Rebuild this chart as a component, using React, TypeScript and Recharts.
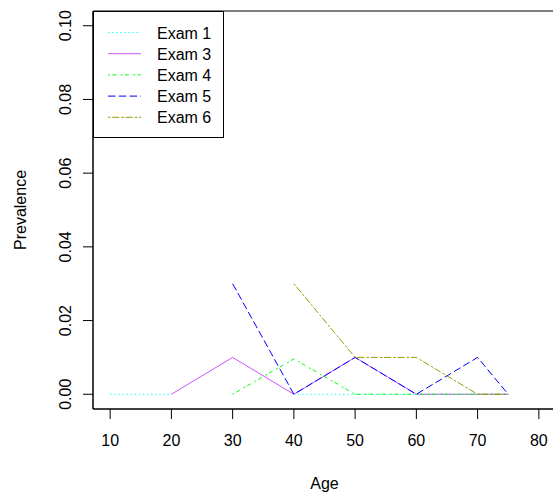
import React from 'react';
import { LineChart, Line, XAxis, YAxis, ReferenceArea } from 'recharts';

const ages = [10, 20, 30, 40, 50, 60, 70, 75];
const exam1 = [0, 0, null, 0, 0, 0, 0, 0];
const exam3 = [null, 0, 0.01, 0, 0.01, 0, 0, 0];
const exam4 = [null, null, 0, 0.0096, 0, 0, 0, 0];
const exam5 = [null, null, 0.03, 0, 0.01, 0, 0.01, 0];
const exam6 = [null, null, null, 0.03, 0.01, 0.01, 0, 0];
const xTicks = [10, 20, 30, 40, 50, 60, 70, 80];
const yTicks = [0, 0.02, 0.04, 0.06, 0.08, 0.1];

const series = [
  { key: 'exam1', name: 'Exam 1', color: '#00FFFF', dash: '1.3 2.8', values: exam1 },
  { key: 'exam3', name: 'Exam 3', color: '#CC55FF', dash: undefined, values: exam3 },
  { key: 'exam4', name: 'Exam 4', color: '#00FF00', dash: '2 2.3 4 4.3', values: exam4 },
  { key: 'exam5', name: 'Exam 5', color: '#0000FF', dash: '7.5 3.3', values: exam5 },
  { key: 'exam6', name: 'Exam 6', color: '#999900', dash: '2.5 1.7 7 2.2', values: exam6 },
];

const data = ages.map((age, i) => {
  const row: any = { age };
  series.forEach((s) => { row[s.key] = s.values[i]; });
  return row;
});

const font = '"Liberation Sans", Arial, Helvetica, sans-serif';

const YTick = (props: any) => {
  const { y, payload } = props;
  return (
    <text x={71} y={y} transform={`rotate(-90, 71, ${y})`} textAnchor="middle"
      fontSize={16} fontFamily={font} fill="#000">
      {Number(payload.value).toFixed(2)}
    </text>
  );
};

const LegendBox = () => (
  <svg width={131} height={127} style={{ position: 'absolute', left: 93, top: 11 }}>
    <rect x={0.5} y={0.5} width={130} height={126} fill="#fff" stroke="#000" />
    {series.map((s, i) => {
      const cy = 21.5 + i * 21.2;
      return (
        <g key={s.key}>
          <line x1={15} x2={48} y1={cy} y2={cy} stroke={s.color} strokeDasharray={s.dash} />
          <text x={64} y={cy + 6} fontSize={16} fontFamily={font} fill="#000">{s.name}</text>
        </g>
      );
    })}
  </svg>
);

export default function App() {
  return (
    <div style={{ position: 'absolute', left: 0, top: 0, width: 553, height: 498, overflow: 'hidden', background: '#fff' }}>
      <LineChart width={560} height={498} data={data} margin={{ top: 11, right: 4, bottom: 0, left: 0 }}>
        <XAxis
          dataKey="age"
          type="number"
          domain={[7.2, 82.8]}
          ticks={xTicks}
          allowDataOverflow
          height={89}
          tickSize={10}
          tickMargin={16}
          stroke="#000"
          tick={{ fill: '#000', fontSize: 16, fontFamily: font }}
          label={({ viewBox }: any) => (
            <text x={viewBox.x + viewBox.width / 2} y={489} textAnchor="middle"
              fontSize={16} fontFamily={font} fill="#000">Age</text>
          )}
        />
        <YAxis
          type="number"
          domain={[-0.004, 0.104]}
          ticks={yTicks}
          allowDataOverflow
          width={93}
          tickSize={10}
          stroke="#000"
          tick={<YTick />}
          label={({ viewBox }: any) => (
            <text x={26} y={viewBox.y + viewBox.height / 2} transform={`rotate(-90, 26, ${viewBox.y + viewBox.height / 2})`}
              textAnchor="middle" fontSize={16} fontFamily={font} fill="#000">Prevalence</text>
          )}
        />
        <ReferenceArea x1={7.2} x2={82.8} y1={-0.004} y2={0.104} fill="none" stroke="#000" strokeOpacity={1} fillOpacity={0} />
        {series.map((s) => (
          <Line
            key={s.key}
            type="linear"
            dataKey={s.key}
            name={s.name}
            stroke={s.color}
            strokeWidth={1}
            strokeDasharray={s.dash}
            dot={false}
            activeDot={false}
            isAnimationActive={false}
          />
        ))}
      </LineChart>
      <LegendBox />
    </div>
  );
}
